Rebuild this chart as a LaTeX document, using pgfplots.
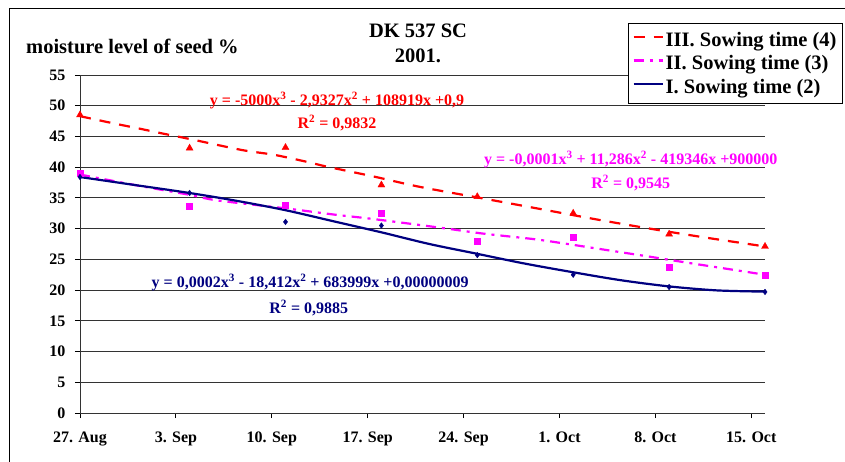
\documentclass[border=0pt]{standalone}
\usepackage{fontspec}
\setmainfont{Liberation Serif}
\usepackage{pgfplots}
\pgfplotsset{compat=1.18}
\definecolor{navy}{RGB}{0,0,128}
\definecolor{mag}{RGB}{255,0,255}
\definecolor{rd}{RGB}{255,0,0}
\begin{document}
\begin{tikzpicture}[x=1pt,y=1pt, eq/.style={font=\bfseries\fontsize{16}{16}\selectfont, inner sep=0pt}]
\path[use as bounding box] (0,0) rectangle (845,461);
\draw[line width=1pt] (9,-5) -- (9,452) -- (850,452);
\begin{axis}[
 at={(80pt,48pt)}, anchor=south west, scale only axis, width=685pt, height=338pt,
 xmin=0,xmax=50, ymin=0,ymax=55,
 axis x line*=bottom, axis y line*=left,
 axis line style={line width=0.9pt, black!80, -},
 xtick={0,7,...,49},
 xticklabels={27. Aug,3. Sep,10. Sep,17. Sep,24. Sep,1. Oct,8. Oct,15. Oct},
 ytick={0,5,...,55},
 ymajorgrids, grid style={line width=0.9pt, black!80},
 tick align=outside, major tick length=5pt, tick style={line width=0.9pt, black},
 ticklabel style={font=\bfseries\fontsize{16}{16}\selectfont},
 /pgf/number format/assume math mode=true,
 xticklabel style={yshift=-10pt},
 yticklabel style={xshift=-6pt},
 clip=false,
 legend style={at={(0.8,1.154)}, anchor=north west, draw=black, line width=1pt,
   font=\bfseries\fontsize{20.5}{20.5}\selectfont, cells={anchor=west},
   inner xsep=4pt, inner ysep=7pt, row sep=3.5pt},
 legend image code/.code={\draw[#1] (0pt,3pt) -- (29pt,3pt);},
]
% trendlines
\addplot[rd, line width=2.2pt, dash pattern=on 11pt off 9pt, smooth] coordinates {
(0,48.3) (2.3,47.2) (4.5,46.2) (6.2,45.4) (8.2,44.5) (11.8,42.8) (14.2,42.0) (16.7,40.8)
(18,40.1) (21.4,38.5) (24.8,36.8) (29.2,35.0) (33.1,33.4) (37.7,31.5) (41.6,30.0) (45.5,28.6) (50,27.1)};
\addlegendentry{III. Sowing time (4)}
\addplot[mag, line width=2.2pt, dash pattern=on 10pt off 6pt on 3pt off 6pt, smooth] coordinates {
(0,38.8) (4,37.1) (8,35.5) (10,34.6) (15,33.3) (18.5,32.3) (20.9,31.7) (23.4,31.0) (26.8,30.0)
(29.4,29.2) (33.1,28.3) (35.3,27.6) (38.2,26.6) (41.4,25.5) (44.5,24.4) (47.4,23.4) (50,22.5)};
\addlegendentry{II. Sowing time (3)}
\addplot[navy, line width=2.2pt, smooth] coordinates {
(0,38.4) (4,37.1) (8,35.8) (11.5,34.5) (15,33.0) (18.5,31.2) (22,29.4) (25.5,27.5)
(29,25.9) (32.5,24.3) (36,22.9) (39.5,21.6) (43,20.6) (46.5,19.95) (50,19.75)};
\addlegendentry{I. Sowing time (2)}
% data points
\addplot[only marks, mark=triangle*, mark size=4pt, color=rd, forget plot] coordinates {
(0,48.5) (8,43.1) (15,43.2) (22,37.1) (29,35.2) (36,32.5) (43,29.1) (50,27.1)};
\addplot[only marks, mark=square*, mark size=3pt, color=mag, forget plot] coordinates {
(0,39.1) (8,33.7) (15,33.8) (22,32.5) (29,27.9) (36,28.6) (43,23.8) (50,22.4)};
\addplot[only marks, mark=diamond*, mark size=2.8pt, color=navy, forget plot] coordinates {
(0,38.4) (8,35.8) (15,31.1) (22,30.5) (29,25.7) (36,22.5) (43,20.5) (50,19.7)};
% trendline equations
\node[eq, text=rd] at (axis cs:18.76,50.9) {y = -5000x\textsuperscript{3} - 2,9327x\textsuperscript{2} + 108919x +0,9};
\node[eq, text=rd] at (axis cs:18.76,47.2) {R\textsuperscript{2} = 0,9832};
\node[eq, text=mag] at (axis cs:40.2,41.2) {y = -0,0001x\textsuperscript{3} + 11,286x\textsuperscript{2} - 419346x +900000};
\node[eq, text=mag] at (axis cs:40.2,37.4) {R\textsuperscript{2} = 0,9545};
\node[eq, text=navy] at (axis cs:16.8,21.2) {y = 0,0002x\textsuperscript{3} - 18,412x\textsuperscript{2} + 683999x +0,00000009};
\node[eq, text=navy] at (axis cs:16.7,17.1) {R\textsuperscript{2} = 0,9885};
\end{axis}
\node[anchor=base west, inner sep=0pt, font=\bfseries\fontsize{20.5}{20.5}\selectfont] at (26,407) {moisture level of seed \%};
\node[anchor=base, inner sep=0pt, font=\bfseries\fontsize{20.5}{20.5}\selectfont] at (418,423) {DK 537 SC};
\node[anchor=base, inner sep=0pt, font=\bfseries\fontsize{20.5}{20.5}\selectfont] at (418,398) {2001.};
\end{tikzpicture}
\end{document}
